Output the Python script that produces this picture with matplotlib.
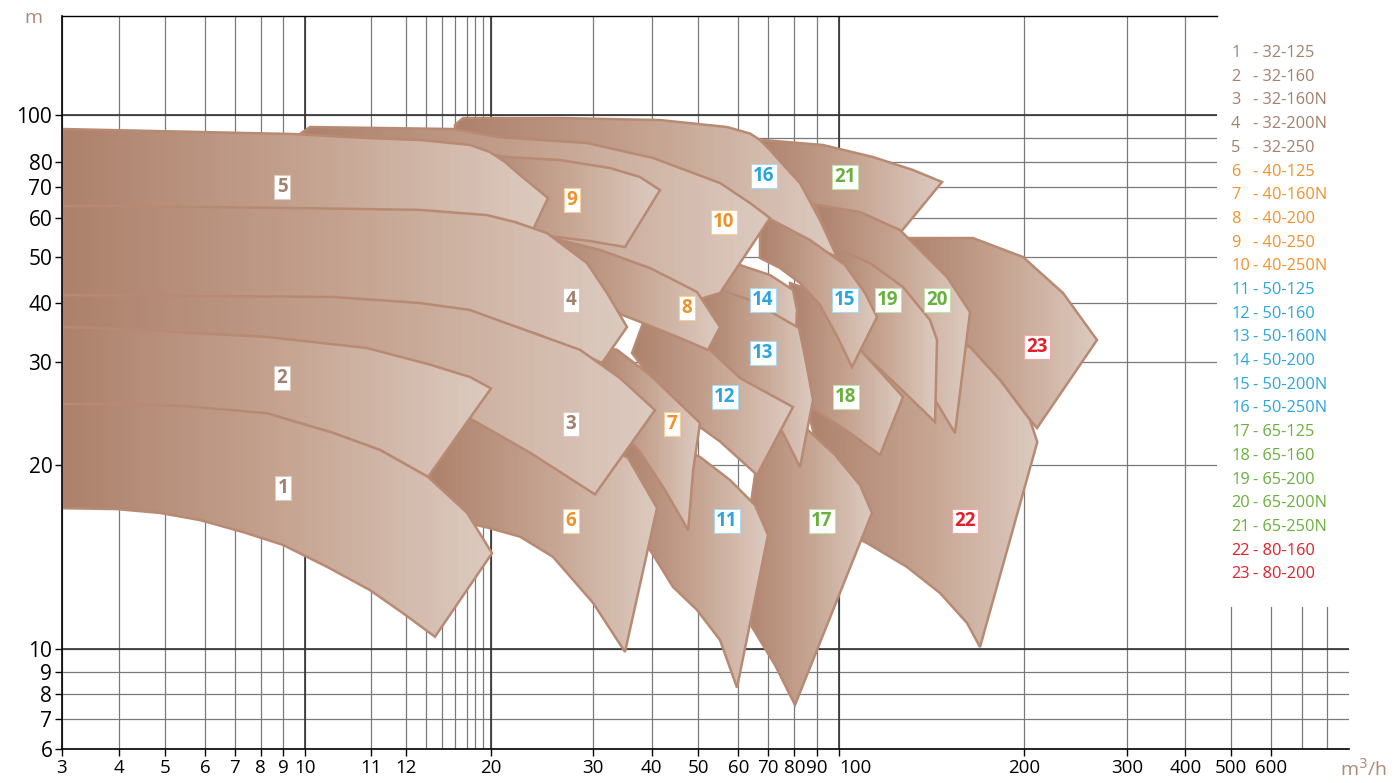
import matplotlib
matplotlib.use('Agg')
import matplotlib.pyplot as plt
import numpy as np
from matplotlib import font_manager
from matplotlib.patches import Polygon, Rectangle
from matplotlib.colors import LinearSegmentedColormap

# grid values of the original chart and where the drawing puts them
# (the printed chart is not a true log scale, so the axis is calibrated on its grid)
q_grid = [3, 4, 5, 6, 7, 8, 9, 10, 11, 12, 13, 14, 15, 16, 17, 18, 20, 30, 40, 50,
          60, 70, 80, 90, 100, 200, 300, 400, 500, 600, 700, 800, 900]
q_grid_pos = [62, 118.7, 165, 205, 235, 260.7, 283, 304.7, 371, 406, 426, 442, 455, 467,
              475, 483, 491, 593.3, 651.7, 698.3, 738.3, 768.3, 794.3, 816.7, 839, 1024.3,
              1127, 1185.3, 1231.3, 1271.3, 1301.7, 1327, 1349.3]
h_grid = [6, 7, 8, 9, 10, 20, 30, 40, 50, 60, 70, 80, 90, 100, 150]
h_grid_pos = [749.3, 719.3, 694, 671.7, 648.7, 465, 361.5, 303, 256.5, 217.5, 187, 162,
              138.3, 115, -1.5]

q_ticks = [3, 4, 5, 6, 7, 8, 9, 10, 11, 12, 20, 30, 40, 50, 60, 70, 80, 90, 100, 200, 300, 400, 500, 600]
q_minor = [13, 14, 15, 16, 17, 18, 700, 800]
h_ticks = [6, 7, 8, 9, 10, 20, 30, 40, 50, 60, 70, 80, 100]
h_minor = [90]

models = ['32-125', '32-160', '32-160N', '32-200N', '32-250', '40-125', '40-160N', '40-200',
          '40-250', '40-250N', '50-125', '50-160', '50-160N', '50-200', '50-200N', '50-250N',
          '65-125', '65-160', '65-200', '65-200N', '65-250N', '80-160', '80-200']
groups = ['32'] * 5 + ['40'] * 5 + ['50'] * 6 + ['65'] * 5 + ['80'] * 2

# working fields, outline as (Q m3/h, H m)
pump_01 = [(3, 25.9), (3.44, 25.9), (5.5, 25.7), (8.28, 25.0), (10.43, 23.1), (11.26, 21.45),
           (13.13, 19.35), (16.0, 17.4), (20.1, 15.2), (13.56, 10.65), (11.91, 11.94),
           (10.98, 13.2), (10.34, 14.45), (9.0, 15.65), (7.31, 16.35), (5.88, 17.0),
           (4.89, 17.39), (3.97, 17.6), (3, 17.65)]
pump_02 = [(3, 35.9), (3.49, 35.8), (8.28, 34.2), (10.94, 32.3), (13.25, 29.7), (16.38, 28.5),
           (20.0, 27.4), (13.13, 19.35), (11.26, 21.45), (10.43, 23.1), (8.28, 25.0), (3, 25.9)]
pump_03 = [(3, 41.7), (3.26, 41.7), (10.43, 41.3), (12.7, 40.0), (16.38, 38.8), (22.83, 35.7),
           (28.7, 32.0), (34.57, 28.4), (40.7, 25.3), (30.29, 18.4), (23.81, 21.2), (16.38, 24.5),
           (12.7, 26.8), (9.78, 30.3), (3, 33.7)]
pump_04 = [(3, 63.8), (3.62, 63.8), (9.78, 63.1), (12.7, 62.5), (19.0, 60.8), (22.35, 58.85),
           (25.47, 56.0), (29.38, 48.6), (32.35, 42.15), (35.77, 35.9), (31.49, 29.86),
           (24.79, 34.5), (16.38, 38.5), (10.43, 40.9), (3, 41.3)]
pump_05 = [(3, 94.0), (9.46, 91.85), (10.94, 90.1), (12.7, 89.3), (16.38, 87.2), (19.75, 84.2),
           (21.37, 80.0), (22.83, 74.8), (25.57, 66.4), (24.0, 56.3), (16.38, 58.85), (9.78, 61.8),
           (3, 62.5)]
pump_06 = [(13.25, 27.7), (20.88, 26.3), (26.74, 24.35), (35.94, 20.7), (41.14, 17.66),
           (35.43, 9.86), (29.97, 12.5), (26.06, 15.0), (22.83, 16.1), (19.0, 16.6), (13.25, 17.3)]
pump_07 = [(29.68, 32.8), (34.06, 32.0), (39.71, 28.7), (50.43, 24.06), (48.9, 19.73),
           (47.83, 16.46), (42.85, 18.64), (38.0, 21.26), (32.86, 24.35), (29.68, 26.76)]
pump_08 = [(24.79, 55.5), (31.15, 51.67), (39.71, 47.53), (49.72, 42.37), (55.43, 35.9),
           (52.43, 31.97), (46.07, 34.02), (38.51, 36.58), (33.72, 38.46), (29.68, 40.65),
           (24.79, 49.25)]
pump_09 = [(15.42, 85.06), (21.56, 82.1), (26.74, 80.84), (32.86, 77.6), (38.0, 74.0),
           (41.78, 69.0), (35.43, 52.43), (29.68, 53.97), (24.79, 55.51), (20.88, 56.28),
           (15.42, 57.31)]
pump_10 = [(9.78, 91.85), (10.08, 94.85), (14.85, 94.0), (20.59, 90.55), (29.38, 88.0),
           (40.28, 81.7), (55.43, 71.6), (63.9, 64.75), (70.65, 59.87), (55.43, 42.15),
           (49.72, 40.65), (39.71, 44.95), (31.15, 49.25), (24.79, 52.95), (14.62, 55.51),
           (9.78, 56.79)]
pump_11 = [(34.57, 22.46), (41.78, 22.46), (50.43, 20.78), (57.93, 19.18), (65.57, 17.82),
           (69.9, 16.19), (59.68, 8.29), (55.43, 10.47), (49.72, 12.11), (44.57, 13.36),
           (40.06, 15.21), (36.28, 17.0)]
pump_12 = [(38.51, 36.58), (52.93, 31.97), (60.57, 28.4), (79.5, 25.6), (66.23, 19.46),
           (55.43, 22.27), (50.43, 23.67), (41.78, 27.25), (36.63, 31.45)]
pump_13 = [(50.43, 44.4), (63.9, 40.65), (82.1, 35.73), (85.22, 29.95), (88.35, 26.28),
           (82.54, 19.89), (75.65, 23.09), (68.9, 25.31), (60.57, 28.21), (52.93, 31.97)]
pump_14 = [(50.43, 48.82), (60.57, 48.17), (70.65, 46.02), (79.5, 42.8), (81.2, 38.8),
           (80.31, 31.97), (67.23, 36.24), (57.93, 39.32), (51.68, 41.51)]
pump_15 = [(67.23, 60.64), (71.42, 59.36), (87.01, 54.23), (103.24, 48.17), (114.03, 42.15),
           (120.51, 37.61), (107.02, 29.47), (99.55, 34.02), (91.48, 39.66), (82.54, 44.3),
           (74.5, 47.53), (67.23, 49.68)]
pump_16 = [(15.0, 95.71), (15.67, 98.71), (26.74, 98.71), (41.78, 97.85), (57.18, 94.85),
           (64.0, 92.0), (67.23, 89.28), (70.65, 85.06), (76.5, 78.0), (82.54, 71.6),
           (91.48, 59.36), (99.1, 49.9), (87.01, 52.95), (71.42, 58.08), (55.43, 69.02),
           (31.15, 82.95), (15.0, 89.28)]
pump_17 = [(67.23, 22.42), (76.3, 23.19), (86.03, 23.38), (98.21, 20.97), (111.33, 18.91),
           (117.81, 17.39), (80.31, 7.57), (72.58, 9.29), (64.57, 11.18), (60.57, 13.74)]
pump_18 = [(78.35, 44.3), (91.48, 42.15), (103.24, 36.24), (112.95, 31.45), (124.82, 28.5),
           (134.54, 26.57), (122.13, 20.97), (105.94, 23.09), (89.24, 25.31), (80.31, 26.28)]
pump_19 = [(93.72, 52.95), (100.54, 51.67), (116.73, 48.6), (134.54, 43.44), (149.11, 37.09),
           (152.89, 33.68), (151.81, 24.15), (134.54, 27.15), (112.95, 31.45), (100.54, 37.09),
           (93.72, 40.65)]
pump_20 = [(89.24, 64.26), (111.33, 61.8), (132.92, 56.79), (158.28, 45.59), (170.7, 38.46),
           (162.6, 23.09), (151.81, 26.28), (141.02, 29.18), (127.52, 34.53), (111.33, 42.8),
           (98.21, 50.38)]
pump_21 = [(65.57, 87.17), (68.23, 89.28), (92.83, 87.17), (118.35, 82.11), (139.94, 76.8),
           (155.59, 72.0), (132.92, 56.03), (111.33, 58.85), (91.48, 60.64), (74.5, 62.46)]
pump_22 = [(85.08, 26.28), (116.73, 31.97), (149.11, 34.53), (170.7, 32.48), (186.89, 28.21),
           (205.55, 24.35), (212.66, 22.22), (176.1, 10.09), (169.08, 11.4), (154.51, 13.03),
           (136.7, 14.45), (115.11, 15.75), (100.54, 16.46), (95.65, 18.09)]
pump_23 = [(134.54, 54.74), (172.32, 54.74), (199.3, 49.89), (237.7, 42.15), (270.8, 33.68),
           (212.37, 23.57), (205.55, 24.35), (186.89, 28.21), (170.7, 32.48), (159.9, 35.38),
           (149.11, 40.65)]

# where the number tag of each field sits (Q, H)
tag_q = [9.0, 8.96, 27.82, 27.82, 8.96, 27.82, 44.36, 47.58, 27.92, 56.43, 57.18, 56.68,
         68.23, 68.23, 103.24, 68.57, 92.38, 103.78, 126.44, 152.89, 103.24, 168.0, 212.76]
tag_h = [18.75, 28.41, 23.96, 40.65, 70.0, 16.95, 23.96, 39.15, 65.74, 58.85, 16.95, 26.57,
         31.45, 40.65, 40.65, 74.4, 16.95, 26.57, 40.65, 40.65, 74.0, 16.95, 32.48]

pumps = [pump_01, pump_02, pump_03, pump_04, pump_05, pump_06, pump_07, pump_08, pump_09,
         pump_10, pump_11, pump_12, pump_13, pump_14, pump_15, pump_16, pump_17, pump_18,
         pump_19, pump_20, pump_21, pump_22, pump_23]

text_col = {'32': '#a3806e', '40': '#f0922a', '50': '#2aa5de', '65': '#6ab03c', '80': '#e2202a'}
box_col = {'32': '#dcc9bf', '40': '#f8cf9c', '50': '#a9daf2', '65': '#c2e0aa', '80': '#f3a9ab'}
edge_col = '#b88a73'
shade = LinearSegmentedColormap.from_list('shade', ['#ad816c', '#c4a28f', '#dccabf'])

installed = {f.name for f in font_manager.fontManager.ttflist}
if 'Liberation Sans Narrow' in installed:
    base_font, k = 'Liberation Sans Narrow', 1.15
else:
    base_font, k = 'Open Sans', 1.0
plt.rcParams['font.family'] = [base_font, 'DejaVu Sans']

qg = np.array(q_grid, float)
qp = np.array(q_grid_pos, float)
hg = np.array(h_grid, float)
hp = -np.array(h_grid_pos, float)


def q_fwd(v):
    return np.interp(v, qg, qp)


def q_inv(p):
    return np.interp(p, qp, qg)


def h_fwd(v):
    return np.interp(v, hg, hp)


def h_inv(p):
    return np.interp(p, hp, hg)


fig = plt.figure(figsize=(13.95, 7.83), dpi=100)
ax = fig.add_axes([62 / 1395, (783 - 749.3) / 783, (1349.3 - 62) / 1395, (749.3 - 16) / 783])
ax.set_xscale('function', functions=(q_fwd, q_inv))
ax.set_yscale('function', functions=(h_fwd, h_inv))

# shaded fields, highest number at the back
for n in range(len(pumps), 0, -1):
    pts = np.array(pumps[n - 1], float)
    z = 2 + (len(pumps) - n) * 0.02
    poly = Polygon(pts, closed=True, fc='none', ec=edge_col, lw=1.8, zorder=z + 0.01)
    ax.add_patch(poly)
    px = q_fwd(pts[:, 0])
    cols = q_inv(np.linspace(px.min(), px.max(), 90))
    rows = [pts[:, 1].min(), pts[:, 1].max()]
    mesh = ax.pcolormesh(cols, rows, np.linspace(0, 1, 89)[None, :], cmap=shade,
                         shading='flat', zorder=z, edgecolors='none', antialiased=False)
    mesh.set_clip_path(poly)

for i in range(len(pumps)):
    g = groups[i]
    ax.text(tag_q[i], tag_h[i], str(i + 1), ha='center', va='center', fontsize=13.5 * k,
            fontweight='bold', color=text_col[g], zorder=10,
            bbox=dict(boxstyle='square,pad=0.12', fc='white', ec=box_col[g], lw=0.8))

ax.set_xlim(3, 900)
ax.set_ylim(6, 142.5)

ax.set_xticks(q_ticks)
ax.set_xticklabels([str(v) for v in q_ticks])
ax.set_xticks(q_minor, minor=True)
ax.set_yticks(h_ticks)
ax.set_yticklabels([str(v) for v in h_ticks])
ax.set_yticks(h_minor, minor=True)
ax.set_axisbelow(True)
ax.grid(True, which='both', color='#7a7a7a', lw=0.9)
for v in (10, 20, 100):
    ax.axvline(v, color='#333333', lw=1.2, zorder=0.6)
for v in (10, 100):
    ax.axhline(v, color='#333333', lw=1.2, zorder=0.6)

ax.tick_params(which='major', direction='out', length=5, width=1, pad=2, colors='black')
ax.tick_params(axis='x', which='major', labelsize=13.5 * k)
ax.tick_params(axis='y', which='major', labelsize=15 * k)
ax.tick_params(which='minor', length=0)
# the 100 label is printed just right of its line
ax.get_xticklabels()[q_ticks.index(100)].set_horizontalalignment('left')
for s in ('top', 'right'):
    ax.spines[s].set_visible(False)
for s in ('left', 'bottom'):
    ax.spines[s].set_linewidth(1.2)
    ax.spines[s].set_color('black')

# legend panel sits over the grid in the top right corner
ax.add_patch(Rectangle((0.8972, 0.194), 0.12, 0.85, transform=ax.transAxes, fc='white',
                       ec='none', zorder=1, clip_on=False))
ax.plot([0, 0.8972], [1, 1], transform=ax.transAxes, color='black', lw=1.0, clip_on=False,
        zorder=1.1)

for i, m in enumerate(models):
    y = 1 - (53 + i * 23.7) / 783
    c = text_col[groups[i]]
    fig.text(1231 / 1395, y, str(i + 1), color=c, fontsize=11.8 * k, va='center', ha='left')
    fig.text(1253 / 1395, y, '- ' + m, color=c, fontsize=11.8 * k, va='center', ha='left')

fig.text(33 / 1395, 1 - 18 / 783, 'm', color='#b08a78', fontsize=14 * k, ha='center', va='center')
fig.text(1364 / 1395, 1 - 769 / 783, 'm$^3$/h', color='#b08a78', fontsize=14 * k,
         ha='center', va='center')

fig.savefig('out.png', dpi=100)
